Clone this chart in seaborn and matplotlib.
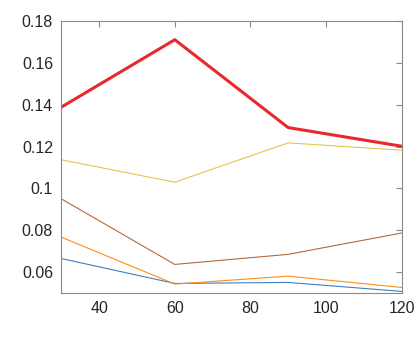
import matplotlib
matplotlib.use("Agg")
import matplotlib.pyplot as plt
import seaborn as sns
import pandas as pd
from matplotlib.ticker import FormatStrFormatter

# data
x = [30, 60, 90, 120]
blue = [0.0665, 0.0546, 0.0551, 0.0508]
orange = [0.0767, 0.0543, 0.0581, 0.0527]
brown = [0.0950, 0.0637, 0.0685, 0.0787]
yellow = [0.1137, 0.1030, 0.1218, 0.1183]
red = [0.1389, 0.1711, 0.1291, 0.1202]

series = [
    (blue, "#3f7fc0", 0.8),
    (orange, "#ff8c1a", 0.8),
    (brown, "#b5683a", 0.8),
    (yellow, "#e2c64a", 0.8),
    (red, "#e8282c", 2.2),
]

sns.set_style("white")
plt.rcParams["font.family"] = ["Liberation Sans", "DejaVu Sans"]

fig = plt.figure(figsize=(4.15, 3.4), dpi=100)
ax = fig.add_axes([0.148, 0.138, 0.8195, 0.800])

for vals, col, lw in series:
    df = pd.DataFrame({"x": x, "y": vals})
    sns.lineplot(data=df, x="x", y="y", color=col, linewidth=lw, ax=ax)

ax.set_xlim(30, 120)
ax.set_ylim(0.05, 0.18)
ax.set_xticks([40, 60, 80, 100, 120])
ax.set_yticks([0.06, 0.08, 0.1, 0.12, 0.14, 0.16, 0.18])
ax.yaxis.set_major_formatter(FormatStrFormatter("%g"))
ax.set_xlabel("")
ax.set_ylabel("")

for s in ax.spines.values():
    s.set_visible(True)
    s.set_color("#8a8a8a")
    s.set_linewidth(0.8)
ax.tick_params(direction="in", length=4, width=0.8, color="#8a8a8a",
               labelsize=11.5, labelcolor="#262626", top=True, right=True,
               pad=6)

fig.savefig("out.png", dpi=100)
